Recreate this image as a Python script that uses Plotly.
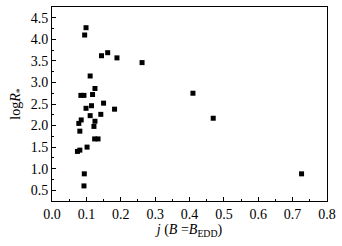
import plotly.graph_objects as go

j_vals = [0.099, 0.095, 0.144, 0.162, 0.189, 0.262, 0.111, 0.125, 0.084, 0.093,
          0.118, 0.410, 0.150, 0.099, 0.115, 0.182, 0.142, 0.111, 0.085, 0.078,
          0.125, 0.122, 0.081, 0.124, 0.134, 0.074, 0.081, 0.102, 0.094, 0.093,
          0.469, 0.726]
logR_vals = [4.27, 4.10, 3.62, 3.69, 3.57, 3.46, 3.15, 2.86, 2.70, 2.70,
             2.72, 2.75, 2.52, 2.40, 2.46, 2.38, 2.26, 2.23, 2.13, 2.05,
             2.10, 1.98, 1.87, 1.69, 1.69, 1.40, 1.43, 1.50, 0.88, 0.60,
             2.17, 0.88]

x_tick_step = 0.1
y_tick_start = 0.5
y_tick_step = 0.5

font_family = "Liberation Serif, Times New Roman, serif"

fig = go.Figure()
fig.add_trace(go.Scatter(
    x=j_vals, y=logR_vals, mode="markers",
    marker=dict(symbol="square", size=5, color="black", line=dict(width=0)),
    showlegend=False,
))

axis_common = dict(
    showgrid=False, zeroline=False, showline=True, linecolor="black",
    linewidth=1, mirror=True, ticks="inside", ticklen=4, tickwidth=1,
    tickcolor="black", tickformat=".1f", automargin=False,
    tickfont=dict(family=font_family, size=14, color="black"),
)

fig.update_xaxes(
    range=[0, 0.8], tick0=0, dtick=x_tick_step,
    minor=dict(ticks="inside", ticklen=2, tickwidth=1, tickcolor="black",
               dtick=x_tick_step / 2, showgrid=False),
    title=dict(text="<i>j</i> (<i>B</i> =<i>B</i><sub>EDD</sub>)",
               font=dict(family=font_family, size=14, color="black"), standoff=0),
    **axis_common,
)
fig.update_yaxes(
    range=[0.25, 4.75], tick0=y_tick_start, dtick=y_tick_step,
    minor=dict(ticks="inside", ticklen=2, tickwidth=1, tickcolor="black",
               dtick=y_tick_step / 2, showgrid=False),
    title=dict(text="log<i>R</i><sub>*</sub>",
               font=dict(family=font_family, size=14, color="black"), standoff=6),
    **axis_common,
)

fig.update_layout(
    width=342, height=246,
    margin=dict(l=52, r=15, t=7, b=45),
    plot_bgcolor="white", paper_bgcolor="white",
)

fig.write_html(
    "out.html",
    config={"displayModeBar": False},
    post_script="document.body.style.margin='0';document.body.style.overflow='hidden';",
)
